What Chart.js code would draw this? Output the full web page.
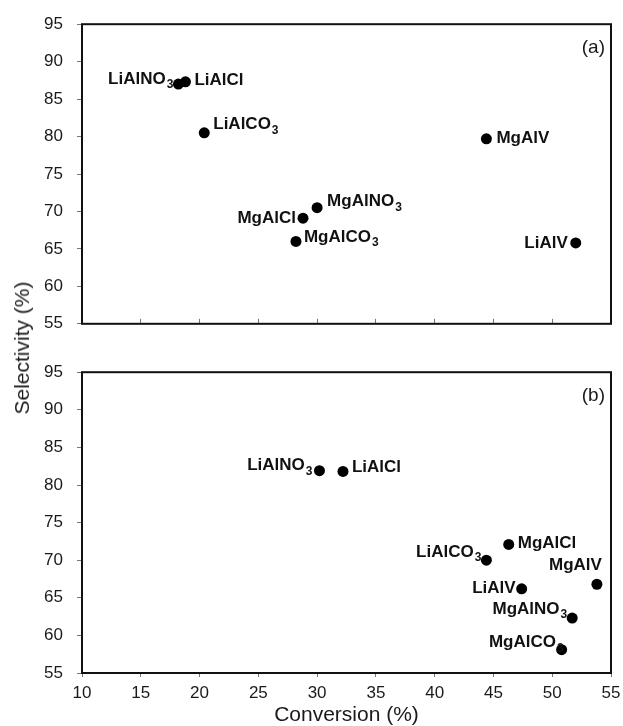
<!DOCTYPE html>
<html>
<head>
<meta charset="utf-8">
<title>Selectivity vs conversion</title>
<script src="https://cdn.jsdelivr.net/npm/chart.js@4.4.0/dist/chart.umd.min.js"></script>
<style>
  body { margin: 0; background: #fff; }
  #wrap { position: relative; width: 623px; height: 726px; }
  #wrap canvas { position: absolute; left: 0; }
  #ytitle {
    position: absolute; left: 22px; top: 348px;
    transform: translate(-50%, -50%) rotate(-90deg);
    white-space: nowrap;
    font: 21px "Liberation Sans", Arial, sans-serif;
    color: #1a1a1a;
  }
</style>
</head>
<body>
<div id="wrap">
  <canvas id="panelA" width="623" height="348" style="top:0"></canvas>
  <canvas id="panelB" width="623" height="378" style="top:348px"></canvas>
  <div id="ytitle">Selectivity (%)</div>
</div>
<script>
// catalysts, same order in both panels (trailing digit = subscript)
const catalysts = ['LiAlNO3', 'LiAlCl', 'LiAlCO3', 'MgAlV', 'MgAlNO3', 'MgAlCl', 'MgAlCO3', 'LiAlV'];

// panel (a)
const conversionA = [18.2, 18.8, 20.4, 44.4, 30.0, 28.8, 28.2, 52.0];
const selectivityA = [87.0, 87.3, 80.5, 79.7, 70.5, 69.1, 66.0, 65.8];

// panel (b)
const conversionB = [30.2, 32.2, 44.4, 53.8, 51.7, 46.3, 50.8, 47.4];
const selectivityB = [81.9, 81.8, 70.0, 66.8, 62.3, 72.1, 58.1, 66.2];

const xTicks = [10, 15, 20, 25, 30, 35, 40, 45, 50, 55];
const yTicks = [55, 60, 65, 70, 75, 80, 85, 90, 95];

// where each name sits relative to its dot: [align, dx, dy]
const placeA = [['right', -5, -5], ['left', 9, -2], ['left', 9, -8], ['left', 10, 0],
                ['left', 10, -6], ['right', -7, 0], ['left', 8, -4], ['right', -8, 0]];
const placeB = [['right', -7, -5], ['left', 9, -4], ['right', -5, -8], ['right', 5, -19],
                ['right', -5, -9], ['left', 9, -1], ['right', 2, -7], ['right', -6, 0]];

const FONT = '"Liberation Sans", Arial, sans-serif';
const ink = '#1a1a1a';

// draws "LiAlNO3" with the trailing 3 as a subscript
function drawFormula(ctx, name, x, y, align) {
  const m = name.match(/^(.*?)(\d*)$/);
  const main = m[1], sub = m[2];
  ctx.font = 'bold 17px ' + FONT;
  const wm = ctx.measureText(main).width;
  ctx.font = 'bold 12px ' + FONT;
  const ws = sub ? ctx.measureText(sub).width + 1 : 0;
  const x0 = align === 'right' ? x - wm - ws : x;
  ctx.textAlign = 'left';
  ctx.textBaseline = 'middle';
  ctx.fillStyle = '#111';
  ctx.font = 'bold 17px ' + FONT;
  ctx.fillText(main, x0, y);
  if (sub) {
    ctx.font = 'bold 12px ' + FONT;
    ctx.fillText(sub, x0 + wm + 1, y + 5.5);
  }
}

const pointLabels = {
  id: 'pointLabels',
  afterDatasetsDraw(chart, args, opts) {
    const ctx = chart.ctx;
    ctx.save();
    chart.getDatasetMeta(0).data.forEach((pt, i) => {
      const [align, dx, dy] = opts.place[i];
      drawFormula(ctx, catalysts[i], pt.x + dx, pt.y + dy, align);
    });
    ctx.restore();
  }
};

// box round the plot area plus the panel letter
const panelFrame = {
  id: 'panelFrame',
  afterDraw(chart, args, opts) {
    const {ctx, chartArea: a} = chart;
    ctx.save();
    ctx.strokeStyle = '#111';
    ctx.lineWidth = 2;
    ctx.strokeRect(a.left, a.top, a.right - a.left, a.bottom - a.top);
    ctx.font = '19px ' + FONT;
    ctx.fillStyle = ink;
    ctx.textAlign = 'right';
    ctx.textBaseline = 'middle';
    ctx.fillText(opts.letter, a.right - 6, a.top + 24);
    ctx.restore();
  }
};

function panelConfig(xs, ys, place, letter, showX) {
  return {
    type: 'scatter',
    data: {
      datasets: [{
        data: xs.map((x, i) => ({x: x, y: ys[i]})),
        pointRadius: 5.5,
        pointBackgroundColor: '#000',
        pointBorderWidth: 0
      }]
    },
    options: {
      responsive: false,
      animation: false,
      events: [],
      layout: { padding: { top: showX ? 16 : 22, right: 12, left: 0, bottom: 0 } },
      plugins: {
        legend: { display: false },
        tooltip: { enabled: false },
        pointLabels: { place: place },
        panelFrame: { letter: letter }
      },
      scales: {
        x: {
          type: 'linear', min: 10, max: 55,
          afterBuildTicks: s => { s.ticks = xTicks.map(v => ({value: v})); },
          ticks: { display: showX, padding: 6, color: ink, maxRotation: 0,
                   font: { family: FONT, size: 17 } },
          grid: { drawOnChartArea: false, drawTicks: true,
                  tickLength: showX ? 4 : -5, color: '#777' },
          border: { display: false },
          title: { display: showX, text: 'Conversion (%)', color: ink, padding: 0,
                   font: { family: FONT, size: 21, lineHeight: 1 } },
          afterFit: s => {
            s.height = showX ? 53 : 16;
            // end labels may hang past the frame; keep the plot width fixed
            s.paddingLeft = 0;
            s.paddingRight = 0;
          }
        },
        y: {
          type: 'linear', min: 55, max: 95,
          afterBuildTicks: s => { s.ticks = yTicks.map(v => ({value: v})); },
          ticks: { padding: 14, color: ink, font: { family: FONT, size: 17 } },
          grid: { drawOnChartArea: false, drawTicks: true, tickLength: 5, color: '#777' },
          border: { display: false },
          afterFit: s => { s.width = 82; }
        }
      }
    },
    plugins: [pointLabels, panelFrame]
  };
}

new Chart(document.getElementById('panelA'),
  panelConfig(conversionA, selectivityA, placeA, '(a)', false));
new Chart(document.getElementById('panelB'),
  panelConfig(conversionB, selectivityB, placeB, '(b)', true));
</script>
</body>
</html>
